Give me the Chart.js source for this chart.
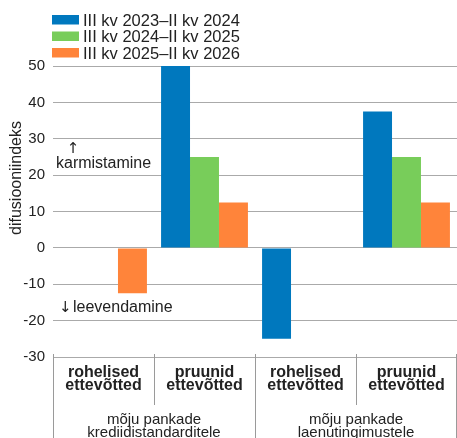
<!DOCTYPE html>
<html>
<head>
<meta charset="utf-8">
<script src="https://cdn.jsdelivr.net/npm/chart.js@4"></script>
<style>
  html, body { margin: 0; padding: 0; background: #fff; }
  #wrap { width: 457px; height: 438px; }
</style>
</head>
<body>
<div id="wrap"><canvas id="chart" width="457" height="438"></canvas></div>
<script>
// categories: inner (firm type) and outer (what is affected)
var groups = ['rohelised ettevõtted', 'pruunid ettevõtted', 'rohelised ettevõtted', 'pruunid ettevõtted'];
var innerLabels = [['rohelised', 'ettevõtted'], ['pruunid', 'ettevõtted'], ['rohelised', 'ettevõtted'], ['pruunid', 'ettevõtted']];
var outerLabels = [['mõju pankade', 'krediidistandarditele'], ['mõju pankade', 'laenutingimustele']];

var seriesNames = ['III kv 2023\u2013II kv 2024', 'III kv 2024\u2013II kv 2025', 'III kv 2025\u2013II kv 2026'];
var period1 = [0, 50, -25, 37.5];
var period2 = [0, 25, 0, 25];
var period3 = [-12.5, 12.5, 0, 12.5];
var colors = ['#0078be', '#78cd5a', '#ff843a'];

var yTicks = [-30, -20, -10, 0, 10, 20, 30, 40, 50];
var yTitle = 'difusiooniindeks';
var upNote = ['\u2191', 'karmistamine'];
var downNote = ['\u2193', 'leevendamine'];

var FONT = '"Liberation Sans", Arial, sans-serif';
var ARROWFONT = '"DejaVu Sans", sans-serif';
var TXT = '#222';

var extras = {
	id: 'extras',
	afterDraw: function (chart) {
		var ctx = chart.ctx;
		var area = chart.chartArea;
		var x = chart.scales.x;
		var y = chart.scales.y;
		ctx.save();

		// legend, one item per row
		ctx.font = '16.5px ' + FONT;
		ctx.textBaseline = 'alphabetic';
		ctx.textAlign = 'left';
		chart.data.datasets.forEach(function (ds, i) {
			var top = 15 + i * 16.5;
			ctx.fillStyle = ds.backgroundColor;
			ctx.fillRect(52, top, 27, 9.5);
			ctx.fillStyle = TXT;
			ctx.fillText(ds.label, 83, top + 10.5);
		});

		// y axis title
		ctx.save();
		ctx.translate(21, 178);
		ctx.rotate(-Math.PI / 2);
		ctx.textAlign = 'center';
		ctx.font = '16px ' + FONT;
		ctx.fillStyle = TXT;
		ctx.fillText(yTitle, 0, 0);
		ctx.restore();

		// direction notes
		ctx.fillStyle = TXT;
		ctx.textAlign = 'center';
		ctx.font = '15px ' + ARROWFONT;
		ctx.fillText(upNote[0], 73, y.getPixelForValue(26.2));
		ctx.textAlign = 'left';
		ctx.font = '16px ' + FONT;
		ctx.fillText(upNote[1], 56, y.getPixelForValue(22));
		ctx.font = '15px ' + ARROWFONT;
		ctx.fillText(downNote[0], 59, y.getPixelForValue(-17.6));
		ctx.font = '16px ' + FONT;
		ctx.fillText(downNote[1], 73, y.getPixelForValue(-17.6));

		// category axis box
		var half = (x.getPixelForValue(1) - x.getPixelForValue(0)) / 2;
		var bottom = area.bottom;
		ctx.strokeStyle = '#9a9a9a';
		ctx.lineWidth = 1;
		for (var i = 0; i <= groups.length; i++) {
			var px = Math.round(x.getPixelForValue(i) - half) + 0.5;
			if (i === groups.length) px = Math.round(x.getPixelForValue(i - 1) + half) - 0.5;
			var full = (i % 2 === 0);
			ctx.beginPath();
			ctx.moveTo(px, bottom - 3);
			ctx.lineTo(px, full ? 438 : bottom + 48);
			ctx.stroke();
		}

		ctx.textAlign = 'center';
		ctx.fillStyle = TXT;
		ctx.font = 'bold 16px ' + FONT;
		innerLabels.forEach(function (lines, i) {
			var cx = x.getPixelForValue(i);
			lines.forEach(function (t, k) {
				ctx.fillText(t, cx, bottom + 20 + k * 12.5);
			});
		});
		ctx.font = '15px ' + FONT;
		outerLabels.forEach(function (lines, j) {
			var cx = (x.getPixelForValue(j * 2) + x.getPixelForValue(j * 2 + 1)) / 2;
			lines.forEach(function (t, k) {
				ctx.fillText(t, cx, bottom + 67 + k * 12.5);
			});
		});
		ctx.restore();
	}
};

new Chart(document.getElementById('chart'), {
	type: 'bar',
	data: {
		labels: groups,
		datasets: [
			{ label: seriesNames[0], data: period1, backgroundColor: colors[0] },
			{ label: seriesNames[1], data: period2, backgroundColor: colors[1] },
			{ label: seriesNames[2], data: period3, backgroundColor: colors[2] }
		]
	},
	options: {
		responsive: false,
		animation: false,
		layout: { padding: { top: 66, bottom: 81, left: 0, right: 0 } },
		datasets: { bar: { categoryPercentage: 0.86, barPercentage: 1.0, borderWidth: 0 } },
		plugins: { legend: { display: false }, tooltip: { enabled: false } },
		scales: {
			x: { display: false },
			y: {
				min: yTicks[0],
				max: yTicks[yTicks.length - 1],
				afterBuildTicks: function (s) { s.ticks = yTicks.map(function (v) { return { value: v }; }); },
				afterFit: function (s) { s.width = 53; },
				border: { display: false },
				grid: { color: '#aaaaaa', lineWidth: 1, drawTicks: false },
				ticks: { color: TXT, font: { family: FONT, size: 15 }, padding: 8 }
			}
		}
	},
	plugins: [extras]
});
</script>
</body>
</html>
